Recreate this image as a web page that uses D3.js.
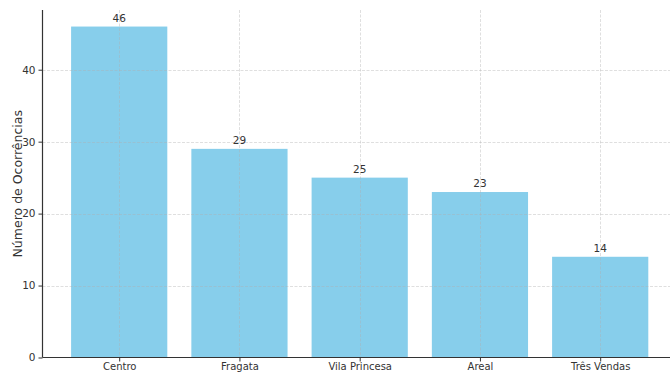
<!DOCTYPE html>
<html>
<head>
<meta charset="utf-8">
<script src="https://cdn.jsdelivr.net/npm/d3@7"></script>
<style>
  html, body { margin: 0; padding: 0; background: #fff; }
  svg { display: block; font-family: "DejaVu Sans", sans-serif; }
</style>
</head>
<body>
<svg id="chart" width="670" height="372"></svg>
<script>
// Ocorrências por bairro
const categories = ["Centro", "Fragata", "Vila Princesa", "Areal", "Três Vendas"];
const values = [46, 29, 25, 23, 14];
const yTicks = [0, 10, 20, 30, 40];

const svg = d3.select("#chart");
const W = 670, H = 372;
const plotLeft = 42.5, plotBottom = 357.5, plotTop = 10;
const textColor = "#333";

const x = d3.scalePoint().domain(categories).range([119.2, 600.2]);
const step = x.step();
const barW = step * 0.8;
const y = d3.scaleLinear().domain([0, 48.3]).range([plotBottom, plotTop]);

// bars
svg.append("g").selectAll("rect").data(values).join("rect")
  .attr("x", (d, i) => x(categories[i]) - barW / 2)
  .attr("width", barW)
  .attr("y", d => y(d))
  .attr("height", d => plotBottom - y(d))
  .attr("fill", "#87ceeb");

// dashed grid, drawn over the bars with transparency
const grid = svg.append("g").attr("stroke", "#b0b0b0").attr("stroke-opacity", 0.5)
  .attr("stroke-width", 0.8).attr("stroke-dasharray", "3,1.5");
grid.selectAll("line.h").data(yTicks.filter(d => d > 0)).join("line")
  .attr("x1", plotLeft).attr("x2", W)
  .attr("y1", d => Math.round(y(d)) + 0.5).attr("y2", d => Math.round(y(d)) + 0.5);
grid.selectAll("line.v").data(categories).join("line")
  .attr("x1", d => Math.round(x(d)) + 0.5).attr("x2", d => Math.round(x(d)) + 0.5)
  .attr("y1", plotTop).attr("y2", plotBottom);

// value labels
svg.append("g").selectAll("text").data(values).join("text")
  .attr("x", (d, i) => x(categories[i]))
  .attr("y", d => y(d) - 5)
  .attr("text-anchor", "middle")
  .attr("font-size", 10.5)
  .attr("fill", textColor)
  .text(d => d);

// axes
const yAxis = d3.axisLeft(y).tickValues(yTicks).tickSize(4).tickPadding(3);
const gy = svg.append("g").attr("transform", `translate(${plotLeft},0)`).call(yAxis);
gy.select(".domain").attr("stroke", "#333").attr("stroke-width", 1.2).attr("d", `M0,${plotTop}V${plotBottom}`);
gy.selectAll(".tick line").attr("stroke", "#333");
gy.selectAll(".tick text").attr("font-size", 10.5).attr("fill", textColor).attr("font-family", "DejaVu Sans");

const xAxis = d3.axisBottom(x).tickSize(4).tickPadding(1);
const gx = svg.append("g").attr("transform", `translate(0,${plotBottom})`).call(xAxis);
gx.select(".domain").attr("stroke", "#333").attr("stroke-width", 1.2).attr("d", `M${plotLeft},0H${W}`);
gx.selectAll(".tick line").attr("stroke", "#333");
gx.selectAll(".tick text").attr("font-size", 10).attr("fill", textColor).attr("font-family", "DejaVu Sans");

// y label
svg.append("text")
  .attr("transform", `translate(22,${(plotTop + plotBottom) / 2}) rotate(-90)`)
  .attr("text-anchor", "middle")
  .attr("font-size", 12.5)
  .attr("fill", textColor)
  .text("Número de Ocorrências");
</script>
</body>
</html>
